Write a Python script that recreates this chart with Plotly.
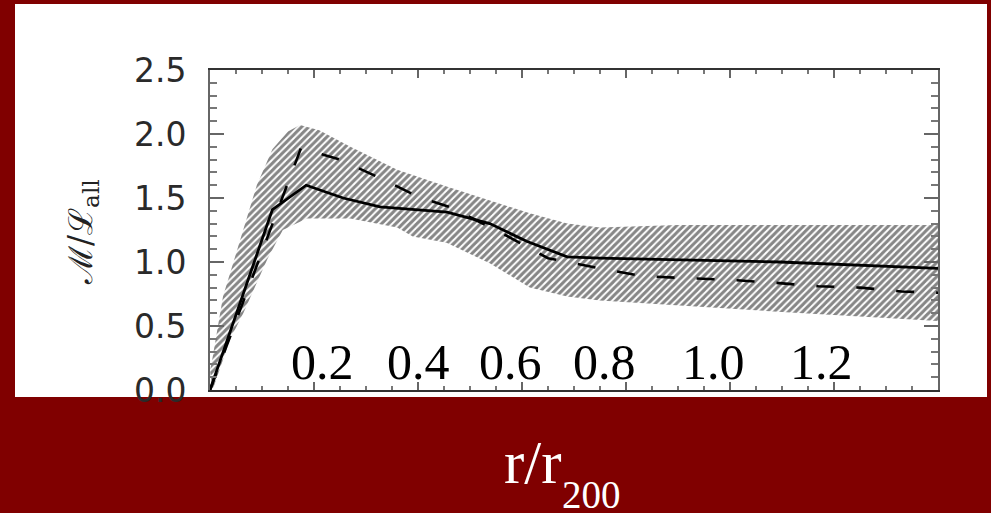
import plotly.graph_objects as go

# ---- data ----
solid_x = [0.0, 0.12, 0.185, 0.256, 0.327, 0.456, 0.538, 0.61, 0.687, 0.75, 1.096, 1.4]
solid_y = [0.0, 1.41, 1.60, 1.50, 1.43, 1.39, 1.30, 1.16, 1.04, 1.03, 1.00, 0.95]

dashed_x = [0.0, 0.175, 0.25, 0.325, 0.40, 0.46, 0.55, 0.65, 0.75, 0.83, 0.91, 1.0, 1.08, 1.17, 1.25, 1.33, 1.4]
dashed_y = [0.0, 1.89, 1.80, 1.66, 1.51, 1.43, 1.25, 1.03, 0.95, 0.89, 0.875, 0.86, 0.84, 0.81, 0.80, 0.77, 0.76]

band_upper_x = [0.0, 0.004, 0.025, 0.06, 0.09, 0.12, 0.15, 0.173, 0.21, 0.27, 0.36, 0.455, 0.54, 0.615, 0.687, 0.75, 0.9, 1.4]
band_upper_y = [0.15, 0.23, 0.73, 1.20, 1.60, 1.88, 2.02, 2.07, 2.03, 1.90, 1.72, 1.59, 1.48, 1.38, 1.30, 1.27, 1.29, 1.29]
band_lower_x = [0.005, 0.038, 0.064, 0.11, 0.14, 0.186, 0.27, 0.36, 0.39, 0.455, 0.538, 0.615, 0.687, 0.75, 1.1, 1.4]
band_lower_y = [0.0, 0.39, 0.60, 1.02, 1.25, 1.34, 1.34, 1.27, 1.20, 1.15, 0.99, 0.80, 0.73, 0.70, 0.61, 0.54]

x_tick_vals = [0.2, 0.4, 0.6, 0.8, 1.0, 1.2]
x_tick_text = ["0.2", "0.4", "0.6", "0.8", "1.0", "1.2"]
y_tick_vals = [0.0, 0.5, 1.0, 1.5, 2.0, 2.5]
y_tick_text = ["0.0", "0.5", "1.0", "1.5", "2.0", "2.5"]

# label placement offsets (style)
x_label_shift = [8, 0, -12, -22, -17, -13]

fig = go.Figure()

poly_x = band_upper_x + band_lower_x[::-1]
poly_y = band_upper_y + band_lower_y[::-1]
fig.add_trace(go.Scatter(
    x=poly_x, y=poly_y, mode="lines", fill="toself",
    line=dict(width=0, color="rgba(0,0,0,0)"),
    fillcolor="rgba(255,255,255,0)",
    fillpattern=dict(shape="/", size=5, solidity=0.6, fgcolor="#0d0d0d",
                     bgcolor="rgba(255,255,255,0)"),
    hoverinfo="skip", showlegend=False,
))
fig.add_trace(go.Scatter(x=dashed_x, y=dashed_y, mode="lines",
                         line=dict(color="black", width=2.6, dash="18px,22px"),
                         showlegend=False))
fig.add_trace(go.Scatter(x=solid_x, y=solid_y, mode="lines",
                         line=dict(color="black", width=2.8),
                         showlegend=False))

L, R, T, B = 210, 53, 70, 123
W, H = 991, 513
pw, ph = W - L - R, H - T - B

def px2paper_x(px):
    return (px - L) / pw

def px2paper_y(py):
    return (H - B - py) / ph

annotations = []
for v, t, s in zip(x_tick_vals, x_tick_text, x_label_shift):
    annotations.append(dict(x=v, y=px2paper_y(362), xref="x", yref="paper",
                            text=t, showarrow=False, xshift=s,
                            xanchor="center", yanchor="middle",
                            font=dict(family="Liberation Serif", size=50, color="black")))

annotations.append(dict(x=px2paper_x(533), y=px2paper_y(462), xref="paper", yref="paper",
                        text="r/r", showarrow=False, xanchor="center", yanchor="middle",
                        font=dict(family="Liberation Serif", size=61, color="white")))
annotations.append(dict(x=px2paper_x(591), y=px2paper_y(494), xref="paper", yref="paper",
                        text="200", showarrow=False, xanchor="center", yanchor="middle",
                        font=dict(family="Liberation Serif", size=39, color="white")))
annotations.append(dict(x=px2paper_x(82), y=px2paper_y(232), xref="paper", yref="paper",
                        text="ℳ/ℒ<sub>all</sub>", showarrow=False, textangle=-90,
                        xanchor="center", yanchor="middle",
                        font=dict(family="DejaVu Serif", size=33, color="#222")))

fig.update_layout(
    width=W, height=H,
    margin=dict(l=L, r=R, t=T, b=B),
    paper_bgcolor="#800000",
    plot_bgcolor="white",
    annotations=annotations,
    shapes=[dict(type="rect", xref="paper", yref="paper", layer="below",
                 x0=px2paper_x(15), x1=px2paper_x(987),
                 y0=px2paper_y(397), y1=px2paper_y(4),
                 fillcolor="white", line=dict(width=0))],
)

fig.update_xaxes(
    range=[0, 1.4], showgrid=False, zeroline=False,
    showline=True, linecolor="#333", linewidth=2, mirror="ticks",
    ticks="inside", tickvals=x_tick_vals, ticklen=8, tickwidth=2, tickcolor="#666",
    showticklabels=False,
    minor=dict(dtick=0.05, tick0=0, ticks="inside", ticklen=4, tickwidth=2, tickcolor="#777"),
)
fig.update_yaxes(
    range=[0, 2.5], showgrid=False, zeroline=False,
    showline=True, linecolor="#666", linewidth=2, mirror="ticks",
    ticks="inside", tickvals=y_tick_vals, ticktext=y_tick_text, ticklen=14, tickwidth=2,
    tickcolor="#666", ticklabelstandoff=15,
    tickfont=dict(family="DejaVu Sans", size=33, color="#2a2a2a"),
    minor=dict(dtick=0.1, tick0=0, ticks="inside", ticklen=7, tickwidth=2, tickcolor="#777"),
)

fig.write_html(
    "out.html",
    config={"displayModeBar": False},
    post_script="document.body.style.margin='0';document.body.style.padding='0';"
                "document.body.style.background='#800000';document.body.style.overflow='hidden';",
)
